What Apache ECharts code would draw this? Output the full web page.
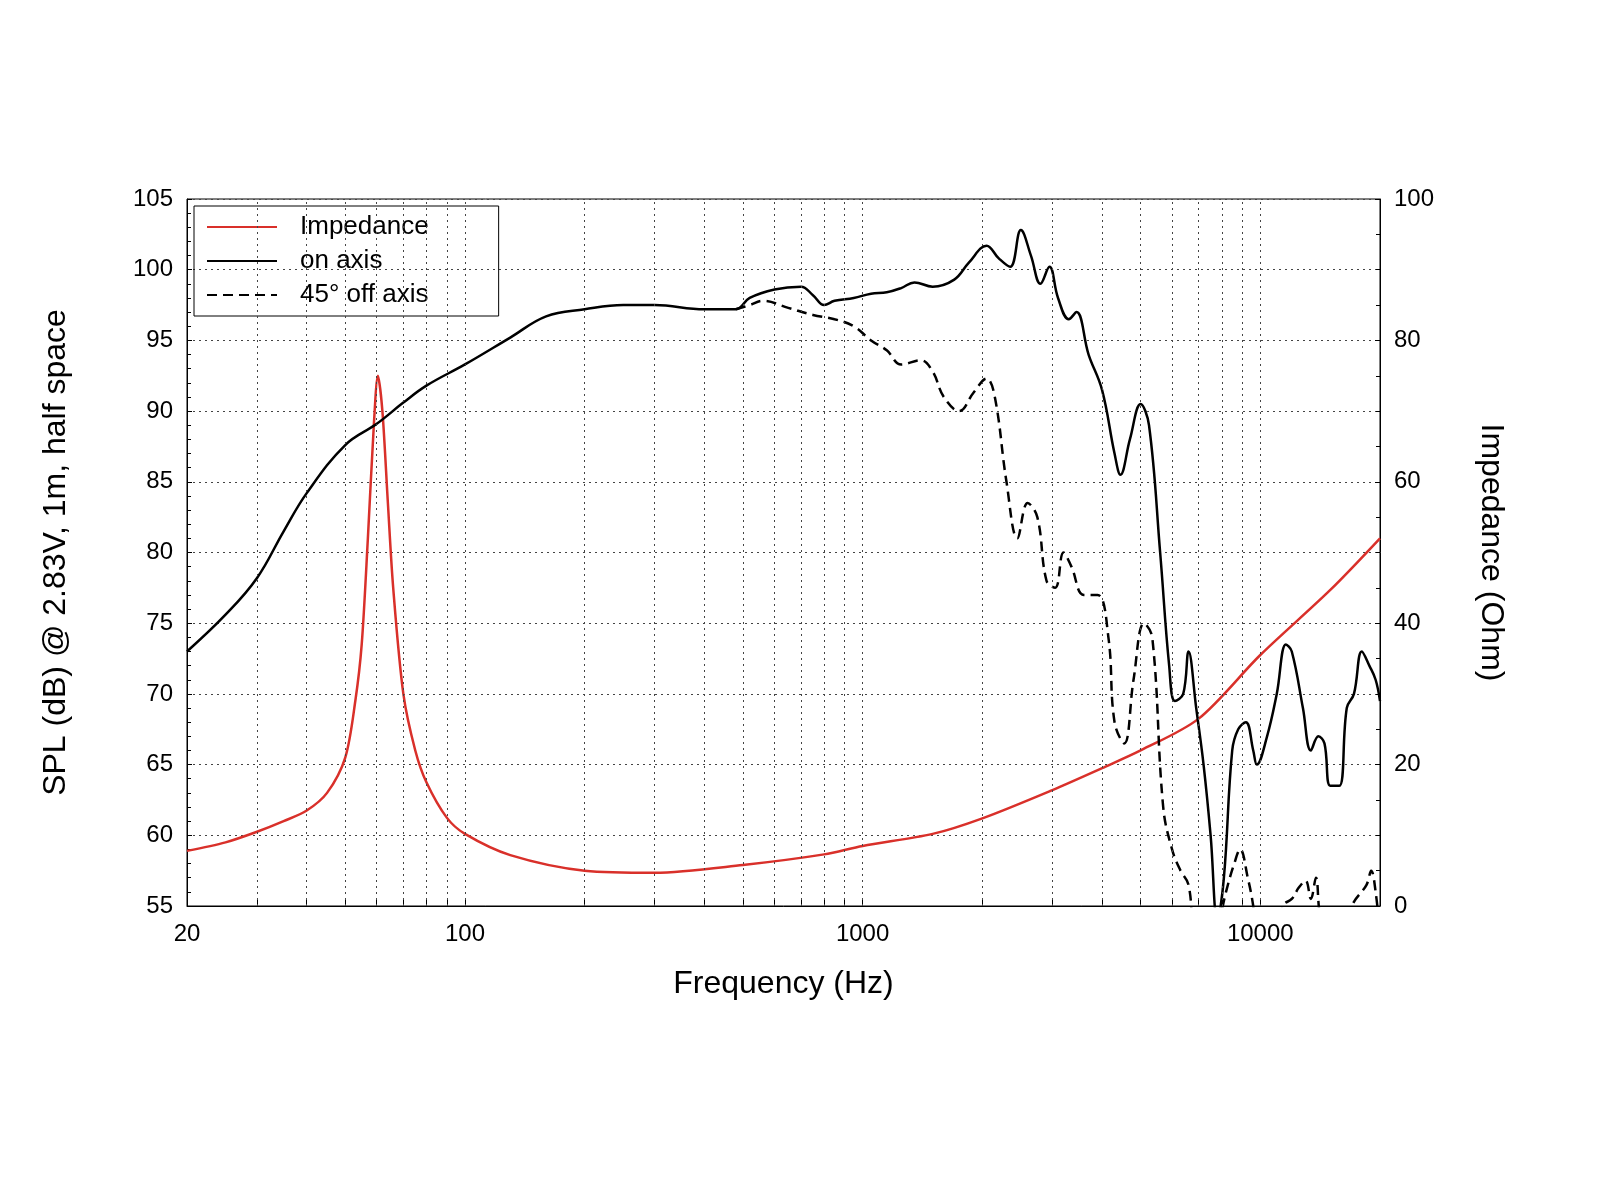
<!DOCTYPE html>
<html>
<head>
    <meta charset="utf-8">
    <script src="https://cdn.jsdelivr.net/npm/echarts@6/dist/echarts.min.js"></script>
</head>
<body style="margin:0;background:#fff;">
<div id="myChart" style="width: 1600px; height: 1200px;"></div>

<script type="text/javascript">
    // [Hz, dB]
    var onAxis = [
        [20, 73], [25, 75.6], [30, 78.2], [35, 81.5], [40, 84.2], [50, 87.6], [60, 89.1], [70, 90.6],
        [80, 91.8], [100, 93.3], [130, 95.2], [160, 96.7], [200, 97.2], [250, 97.5], [300, 97.5],
        [400, 97.2], [480, 97.2],
        [520, 98], [600, 98.6], [700, 98.8], [750, 98.2], [800, 97.5], [850, 97.8], [950, 98],
        [1050, 98.3], [1150, 98.4], [1250, 98.7], [1350, 99.1], [1500, 98.8], [1700, 99.3],
        [1850, 100.5], [2050, 101.7], [2200, 100.8], [2350, 100.2], [2500, 102.8], [2650, 101],
        [2800, 99], [2950, 100.2], [3100, 98], [3300, 96.5], [3450, 97], [3700, 94], [4000, 91.5],
        [4300, 87], [4450, 85.5], [4700, 88], [5000, 90.5], [5250, 89], [5600, 80], [5900, 72],
        [6100, 69.5], [6400, 70], [6600, 73], [6900, 69], [7200, 65], [7500, 60], [7800, 54],
        [8100, 57], [8500, 66], [8800, 67.5], [9200, 68], [9600, 66], [9800, 65], [10400, 67],
        [11000, 70], [11600, 73.5], [12000, 73], [12800, 69], [13400, 66], [14000, 67],
        [14500, 66.5], [15000, 63.5], [15800, 63.5], [16500, 69], [17200, 70], [18000, 73],
        [18800, 72], [19500, 71], [20000, 69.5]
    ];
    var offAxis = [
        [480, 97.2], [520, 97.5], [560, 97.8], [650, 97.3], [750, 96.8], [850, 96.5], [950, 96],
        [1050, 95], [1150, 94.3], [1250, 93.3], [1400, 93.6], [1500, 92.8], [1600, 91], [1750, 90],
        [1900, 91.3], [2050, 92.3], [2150, 91], [2300, 85], [2450, 81], [2600, 83.5], [2750, 82.5],
        [2900, 78], [3050, 77.5], [3200, 80], [3350, 79], [3600, 77], [3900, 77], [4150, 74],
        [4300, 68], [4550, 66.5], [4800, 71], [5100, 75], [5350, 74], [5700, 62], [6000, 59],
        [6300, 57.5], [6600, 56.5], [6800, 53], [7200, 50], [7900, 54], [8200, 56], [8600, 58],
        [8900, 59], [9300, 57], [9600, 55], [9900, 52], [10800, 50], [11400, 55], [12000, 55.5],
        [12500, 56.3], [13000, 56.8], [13400, 55.5], [13800, 57], [14200, 54], [15500, 51],
        [17000, 55], [18500, 56.5], [19000, 57.5], [19500, 56], [20000, 53]
    ];
    // [Hz, Ohm]
    var impedance = [
        [20, 7.8], [25, 9], [30, 10.5], [35, 12], [40, 13.5], [45, 16], [50, 21], [53, 29],
        [55, 37], [57, 52], [59, 68], [60.4, 75], [62, 70], [64, 57], [66, 45], [70, 30],
        [75, 22], [80, 17.5], [90, 12.5], [100, 10.2],
        [130, 7.2], [200, 5], [300, 4.7], [500, 5.8], [800, 7.3], [1000, 8.5], [1500, 10.2],
        [2000, 12.4], [3000, 16.4], [4000, 19.5], [5000, 22], [7000, 26.5], [10000, 35.5],
        [15000, 44.7], [20000, 52]
    ];
    var gridFreqs = [30, 40, 50, 60, 70, 80, 90, 100, 200, 300, 400, 500, 600, 700, 800, 900,
        1000, 2000, 3000, 4000, 5000, 6000, 7000, 8000, 9000, 10000];
    var xLabels = [20, 100, 1000, 10000];

    var chart = echarts.init(document.getElementById('myChart'));
    var font = 'Liberation Sans, Arial, sans-serif';

    var option = {
        animation: false,
        textStyle: {fontFamily: font},
        grid: {left: 187, right: 220, top: 199, bottom: 294, show: true, borderColor: '#000', borderWidth: 1},
        legend: {
            left: 194, top: 206, orient: 'vertical',
            borderColor: '#000', borderWidth: 1, padding: [8, 70, 8, 12], itemGap: 8,
            itemWidth: 70, itemHeight: 20,
            itemStyle: {opacity: 0, borderWidth: 0},
            textStyle: {fontSize: 26, color: '#000', fontFamily: font, padding: [0, 0, 0, 18]},
            data: ['Impedance', 'on axis', '45° off axis']
        },
        xAxis: {
            type: 'log', logBase: 10, min: 20, max: 20000,
            name: 'Frequency (Hz)', nameLocation: 'middle', nameGap: 62,
            nameTextStyle: {fontSize: 32, color: '#000'},
            axisLine: {lineStyle: {color: '#000'}},
            axisTick: {show: true, inside: true, customValues: [20].concat(gridFreqs), length: 6, lineStyle: {color: '#000'}},
            axisLabel: {
                customValues: xLabels, fontSize: 24, color: '#000', margin: 16,
                formatter: function (v) { return String(Math.round(v)); }
            },
            splitLine: {show: false}
        },
        yAxis: [{
            type: 'value', min: 55, max: 105, interval: 5,
            name: 'SPL (dB) @ 2.83V, 1m, half space', nameLocation: 'middle', nameGap: 115,
            nameTextStyle: {fontSize: 32, color: '#000'},
            axisLine: {show: true, lineStyle: {color: '#000'}},
            axisTick: {show: true, inside: true, lineStyle: {color: '#000'}},
            minorTick: {show: true, splitNumber: 5, length: 4, lineStyle: {color: '#000'}},
            axisLabel: {fontSize: 24, color: '#000', margin: 14},
            splitLine: {show: true, lineStyle: {color: '#444', type: [2, 4]}}
        }, {
            type: 'value', min: 0, max: 100, interval: 20,
            name: 'Impedance (Ohm)', nameLocation: 'middle', nameGap: 95, nameRotate: -90,
            nameTextStyle: {fontSize: 32, color: '#000'},
            axisLine: {show: true, lineStyle: {color: '#000'}},
            axisTick: {show: true, inside: true, lineStyle: {color: '#000'}},
            minorTick: {show: true, splitNumber: 4, length: 4, lineStyle: {color: '#000'}},
            axisLabel: {fontSize: 24, color: '#000', margin: 14},
            splitLine: {show: false}
        }],
        series: [{
            name: 'Impedance', type: 'line', yAxisIndex: 1, smooth: 0.3, symbol: 'none',
            lineStyle: {color: '#d9302a', width: 2.5}, itemStyle: {color: '#d9302a'},
            data: impedance
        }, {
            name: 'on axis', type: 'line', smooth: 0.4, symbol: 'none',
            lineStyle: {color: '#000', width: 2.5}, itemStyle: {color: '#000'},
            data: onAxis,
            markLine: {
                silent: true, symbol: 'none', label: {show: false},
                lineStyle: {color: '#444', type: [2, 4], width: 1},
                data: gridFreqs.map(function (f) { return {xAxis: f}; })
            }
        }, {
            name: '45° off axis', type: 'line', smooth: 0.4, symbol: 'none',
            lineStyle: {color: '#000', width: 2.5, type: [10, 6]}, itemStyle: {color: '#000'},
            data: offAxis
        }]
    };

    chart.setOption(option, true);
</script>
</body>
</html>
